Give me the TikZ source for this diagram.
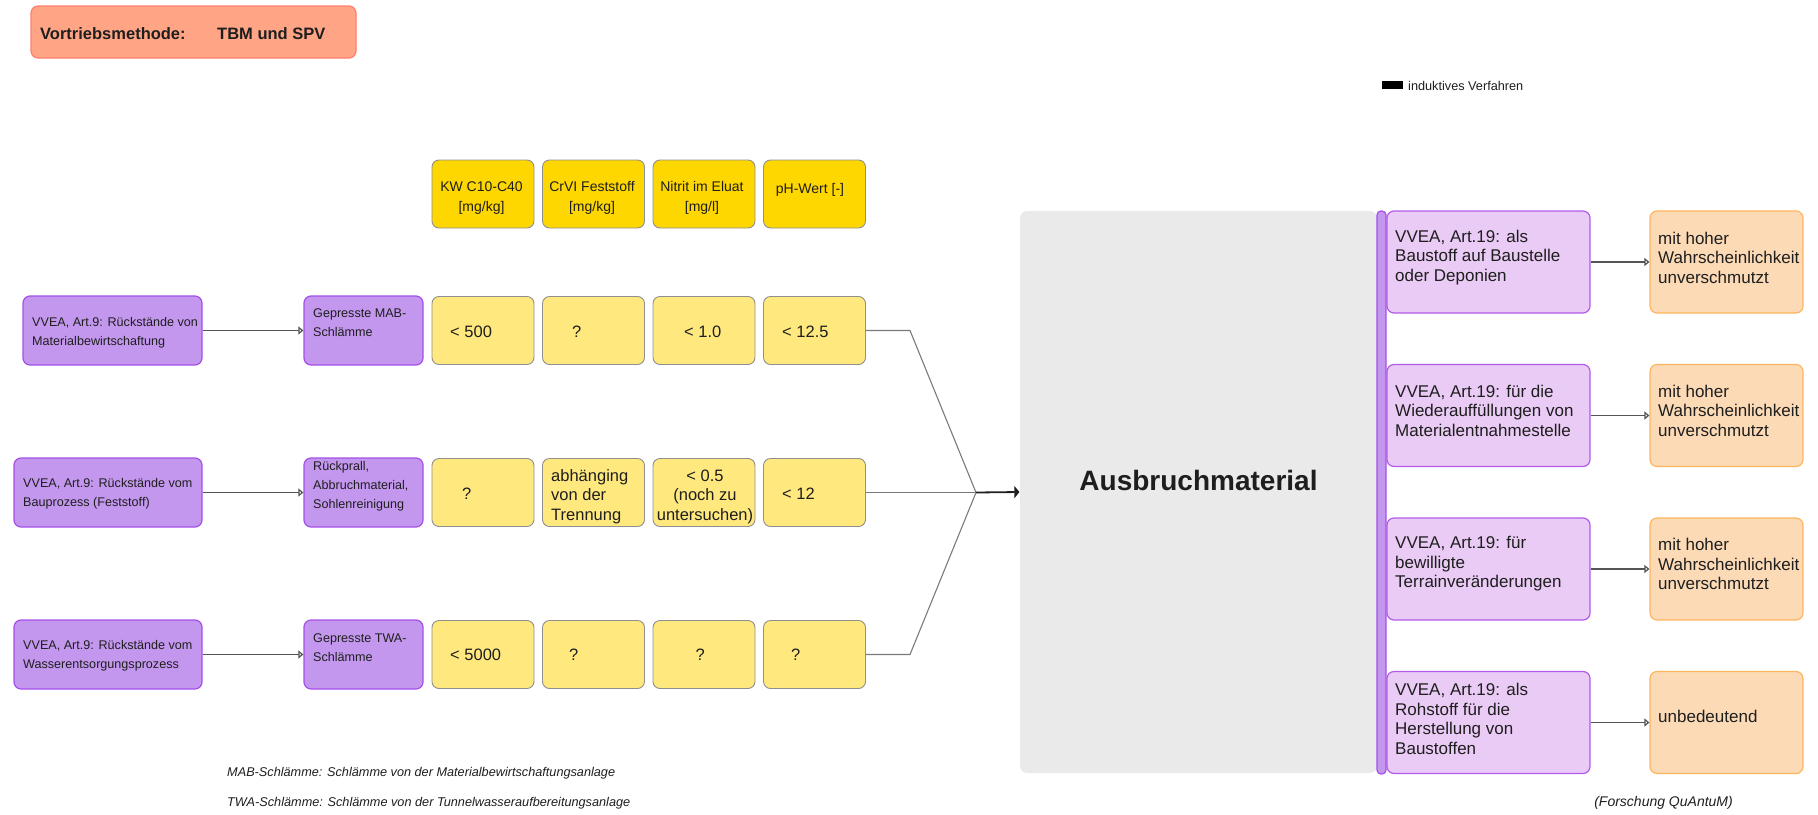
\documentclass[tikz,border=0pt]{standalone}
\usepackage{fontspec}
\setmainfont{Liberation Sans}
\usetikzlibrary{arrows.meta}

% palette
\definecolor{titlefill}{HTML}{FFA585}
\definecolor{titleline}{HTML}{FF7F70}
\definecolor{srcfill}{HTML}{C497EF}
\definecolor{srcline}{HTML}{A450E8}
\definecolor{headfill}{HTML}{FFD700}
\definecolor{valfill}{HTML}{FFE97F}
\definecolor{boxline}{HTML}{8F8F8F}
\definecolor{corefill}{HTML}{EAEAEA}
\definecolor{usefill}{HTML}{EACBF5}
\definecolor{useline}{HTML}{B25BEA}
\definecolor{resfill}{HTML}{FDDAB6}
\definecolor{resline}{HTML}{FFB55E}
\definecolor{wire}{HTML}{555555}
\definecolor{feedline}{HTML}{7A7A7A}
\definecolor{ink}{HTML}{1E1E1E}

% type sizes (1pt = 1px of the layout grid)
\newcommand\ftitle{\fontsize{16.5}{20}\selectfont\bfseries}
\newcommand\fsrc{\fontsize{12.6}{19}\selectfont}
\newcommand\fhead{\fontsize{14}{20}\selectfont}
\newcommand\fval{\fontsize{16.5}{19.5}\selectfont}
\newcommand\fuse{\fontsize{17}{19.5}\selectfont}
\newcommand\fcore{\fontsize{28}{32}\selectfont\bfseries}
\newcommand\fnote{\fontsize{12.7}{14}\selectfont\itshape}
\newcommand\fcredit{\fontsize{14}{16}\selectfont\itshape}
\newcommand\flegend{\fontsize{12.7}{14}\selectfont}

\tikzset{
  shell/.style 2 args={rounded corners=7pt, inner sep=0pt, minimum width=#1pt, minimum height=#2pt, line width=1.2pt},
  titlebox/.style={shell={325}{52}, fill=titlefill, draw=titleline},
  srcbox/.style={shell={#1}{69}, fill=srcfill, draw=srcline},
  headbox/.style={shell={102}{68}, fill=headfill, draw=boxline, line width=0.9pt},
  valbox/.style={shell={102}{68}, fill=valfill, draw=boxline, line width=0.9pt},
  corebox/.style={shell={357}{562}, fill=corefill, draw=none},
  usebar/.style={shell={9}{563}, rounded corners=4pt, fill=srcfill, draw=srcline},
  usebox/.style={shell={203}{102}, fill=usefill, draw=useline},
  resbox/.style={shell={153}{102}, fill=resfill, draw=resline},
  txt/.style={inner sep=0pt, text=ink, align=left},
  ctxt/.style={inner sep=0pt, text=ink, align=center},
  conn/.style={draw=wire, line width=1.2pt, -{Triangle[open, length=5pt, width=8pt]}},
  feed/.style={draw=feedline, line width=1.1pt},
  mainarrow/.style={draw=ink, line width=1.8pt, -{Triangle[length=5pt, width=12pt]}},
}

\begin{document}
\begin{tikzpicture}[x=1pt, y=-1pt]
\useasboundingbox (0,0) rectangle (1818,814);

% heading
\node[titlebox] (title) at (193.5,32) {};
\node[txt, anchor=west, font=\ftitle] (titleA) at (40,34) {Vortriebsmethode:};
\node[txt, anchor=west, font=\ftitle] (titleB) at (217,34) {TBM und SPV};

% legend
\node[fill=black, inner sep=0pt, minimum width=21pt, minimum height=8pt] (lgkey) at (1392.5,85) {};
\node[txt, anchor=west, font=\flegend] (lgtext) at (1408,86) {induktives Verfahren};

% column headers
\node[headbox] (h1) at (483,194) {};
\node[headbox] (h2) at (593.5,194) {};
\node[headbox] (h3) at (704,194) {};
\node[headbox] (h4) at (814.5,194) {};
\node[ctxt, font=\fhead] (h1t) at (481.5,198) {KW C10-C40\\{}[mg/kg]};
\node[ctxt, font=\fhead] (h2t) at (592,198) {CrVI Feststoff\\{}[mg/kg]};
\node[ctxt, font=\fhead] (h3t) at (702,198) {Nitrit im Eluat\\{}[mg/l]};
\node[ctxt, font=\fhead] (h4t) at (810,190) {pH-Wert [-]};

% sources (left)
\node[srcbox=179] (s1) at (112.5,330.5) {};
\node[srcbox=188] (s2) at (108,492.5) {};
\node[srcbox=188] (s3) at (108,654.5) {};
\node[txt, anchor=west, font=\fsrc] (s1t) at (32,332.5) {VVEA, Art.9: Rückstände von\\Materialbewirtschaftung};
\node[txt, anchor=west, font=\fsrc] (s2t) at (23,494) {VVEA, Art.9: Rückstände vom\\Bauprozess (Feststoff)};
\node[txt, anchor=west, font=\fsrc] (s3t) at (23,656) {VVEA, Art.9: Rückstände vom\\Wasserentsorgungsprozess};

% materials
\node[srcbox=119] (m1) at (363.5,330.5) {};
\node[srcbox=119] (m2) at (363.5,492.5) {};
\node[srcbox=119] (m3) at (363.5,654.5) {};
\node[txt, anchor=west, font=\fsrc] (m1t) at (313,323) {Gepresste MAB-\\Schlämme};
\node[txt, anchor=west, font=\fsrc] (m2t) at (313,486.5) {Rückprall,\\Abbruchmaterial,\\Sohlenreinigung};
\node[txt, anchor=west, font=\fsrc] (m3t) at (313,648) {Gepresste TWA-\\Schlämme};

\draw[conn] (s1.east) -- (m1.west);
\draw[conn] (s2.east) -- (m2.west);
\draw[conn] (s3.east) -- (m3.west);

% measured values
\foreach \r/\y in {1/330.5, 2/492.5, 3/654.5}{
  \node[valbox] (v\r1) at (483,\y) {};
  \node[valbox] (v\r2) at (593.5,\y) {};
  \node[valbox] (v\r3) at (704,\y) {};
  \node[valbox] (v\r4) at (814.5,\y) {};
}
\node[txt, anchor=west, font=\fval] (v11t) at (450,332) {< 500};
\node[txt, anchor=west, font=\fval] (v12t) at (572,332) {?};
\node[txt, anchor=west, font=\fval] (v13t) at (684,332) {< 1.0};
\node[txt, anchor=west, font=\fval] (v14t) at (782,332) {< 12.5};

\node[txt, anchor=west, font=\fval] (v21t) at (462,494) {?};
\node[txt, anchor=west, font=\fval] (v22t) at (551,496.5) {abhänging\\von der\\Trennung};
\node[ctxt, font=\fval] (v23t) at (705,496.5) {< 0.5\\(noch zu\\untersuchen)};
\node[txt, anchor=west, font=\fval] (v24t) at (782,494) {< 12};

\node[txt, anchor=west, font=\fval] (v31t) at (450,655) {< 5000};
\node[txt, anchor=west, font=\fval] (v32t) at (569,655) {?};
\node[txt, anchor=west, font=\fval] (v33t) at (695.5,655) {?};
\node[txt, anchor=west, font=\fval] (v34t) at (791,655) {?};

% excavated material
\node[corebox] (core) at (1198.5,492) {};
\node[ctxt, font=\fcore] (coret) at (1198.5,480) {Ausbruchmaterial};
\node[usebar] (bar) at (1381.5,492.5) {};

% merging of the three streams
\coordinate (k1) at (910,330.5);
\coordinate (k3) at (910,654.5);
\coordinate (j) at (976,492.5);
\draw[feed] (v14.east) -- (k1) -- (j);
\draw[feed] (v34.east) -- (k3) -- (j);
\draw[feed] (v24.east) -- (j);
\draw[mainarrow] (j) -- (core.west);

% uses and assessment
\node[usebox] (u1) at (1488.5,262) {};
\node[usebox] (u2) at (1488.5,415.5) {};
\node[usebox] (u3) at (1488.5,569) {};
\node[usebox] (u4) at (1488.5,722.5) {};
\node[resbox] (o1) at (1726.5,262) {};
\node[resbox] (o2) at (1726.5,415.5) {};
\node[resbox] (o3) at (1726.5,569) {};
\node[resbox] (o4) at (1726.5,722.5) {};

\node[txt, anchor=west, font=\fuse] (u1t) at (1395,257.5) {VVEA, Art.19: als\\Baustoff auf Baustelle\\oder Deponien};
\node[txt, anchor=west, font=\fuse] (u2t) at (1395,410.5) {VVEA, Art.19: für die\\Wiederauffüllungen von\\Materialentnahmestelle};
\node[txt, anchor=west, font=\fuse] (u3t) at (1395,564) {VVEA, Art.19: für\\bewilligte\\Terrainveränderungen};
\node[txt, anchor=west, font=\fuse] (u4t) at (1395,719) {VVEA, Art.19: als\\Rohstoff für die\\Herstellung von\\Baustoffen};

\node[txt, anchor=west, font=\fuse] (o1t) at (1658,257.5) {mit hoher\\Wahrscheinlichkeit\\unverschmutzt};
\node[txt, anchor=west, font=\fuse] (o2t) at (1658,410.5) {mit hoher\\Wahrscheinlichkeit\\unverschmutzt};
\node[txt, anchor=west, font=\fuse] (o3t) at (1658,564) {mit hoher\\Wahrscheinlichkeit\\unverschmutzt};
\node[txt, anchor=west, font=\fuse] (o4t) at (1658,716) {unbedeutend};

\draw[conn] (u1.east) -- (o1.west);
\draw[conn] (u2.east) -- (o2.west);
\draw[conn] (u3.east) -- (o3.west);
\draw[conn] (u4.east) -- (o4.west);

% notes
\node[txt, anchor=west, font=\fnote] (n1) at (227,773) {MAB-Schlämme: Schlämme von der Materialbewirtschaftungsanlage};
\node[txt, anchor=west, font=\fnote] (n2) at (227,803) {TWA-Schlämme: Schlämme von der Tunnelwasseraufbereitungsanlage};
\node[txt, anchor=east, font=\fcredit] (n3) at (1733,803) {(Forschung QuAntuM)};
\end{tikzpicture}
\end{document}
